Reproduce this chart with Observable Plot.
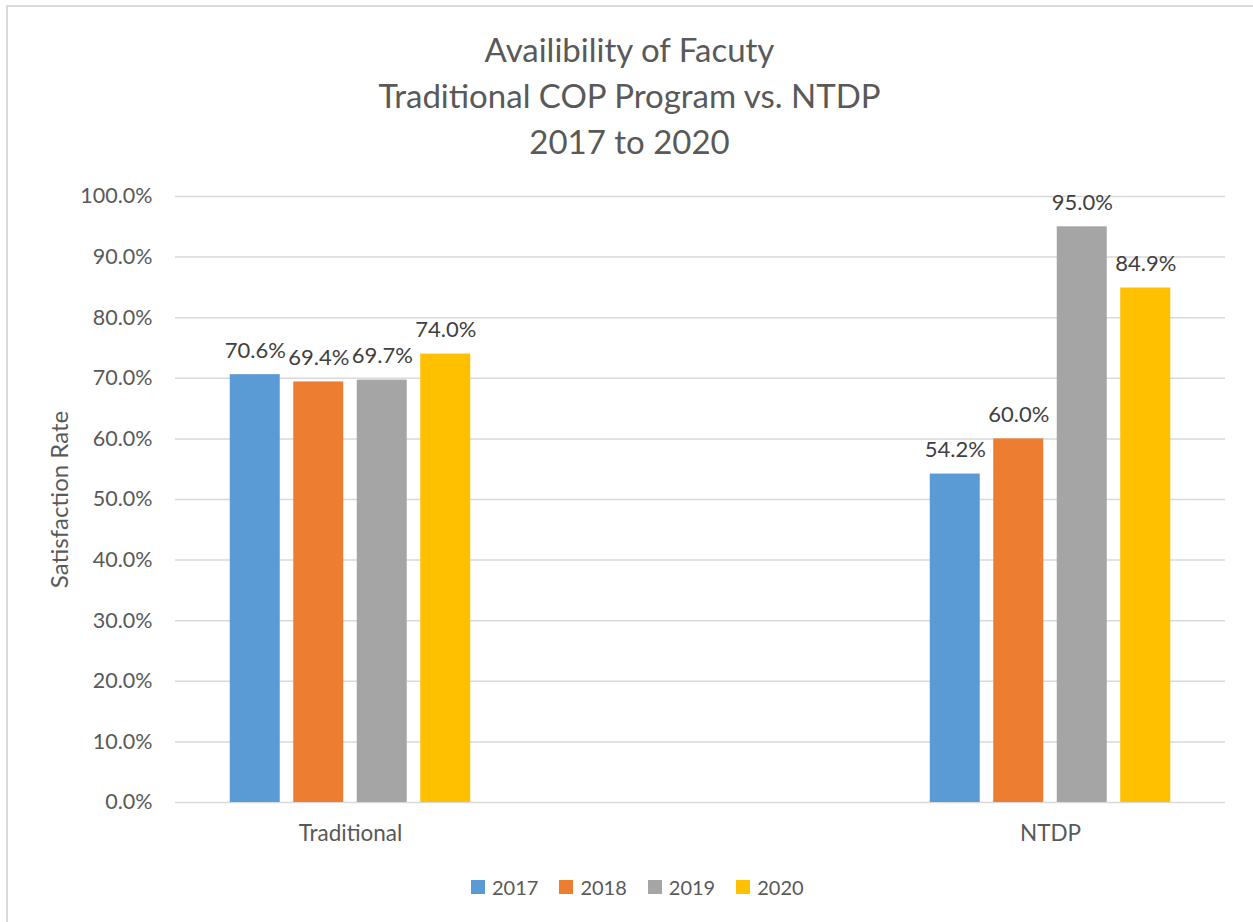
<!DOCTYPE html>
<html>
<head>
<meta charset="utf-8">
<script src="https://cdn.jsdelivr.net/npm/d3@7"></script>
<script src="https://cdn.jsdelivr.net/npm/@observablehq/plot@0.6"></script>
<style>
  html, body { margin: 0; padding: 0; background: #ffffff; overflow: hidden; }
  #wrap { position: relative; width: 1253px; height: 922px; font-family: Lato, "Open Sans", sans-serif; }
  #frameBorder { position: absolute; left: 6px; top: 5px; width: 1300px; height: 1000px;
    border-left: 2px solid #d9d9d9; border-top: 2px solid #d9d9d9; }
  #chart { position: absolute; left: 0; top: 0; }
  #title { position: absolute; left: 3px; top: 26px; width: 1253px; text-align: center;
    font-size: 33px; line-height: 46px; color: #595959; }
  #legend { position: absolute; left: 471px; top: 875px; display: flex; align-items: center;
    font-size: 20px; color: #595959; }
  .item { display: flex; align-items: center; margin-right: 21px; }
  .sw { width: 14px; height: 14px; margin-right: 7px; }
</style>
</head>
<body>
<div id="wrap">
  <div id="frameBorder"></div>
  <div id="chart"></div>
  <div id="title"></div>
  <div id="legend"></div>
</div>
<script>
// ---- data ----
const titleLines = ["Availibility of Facuty", "Traditional COP Program vs. NTDP", "2017 to 2020"];
const categories = ["Traditional", "NTDP"];
const years = ["2017", "2018", "2019", "2020"];
const values2017 = [0.706, 0.542];
const values2018 = [0.694, 0.600];
const values2019 = [0.697, 0.950];
const values2020 = [0.740, 0.849];
const colors = ["#5b9bd5", "#ed7d31", "#a5a5a5", "#ffc000"];
const yTicks = [0, 0.1, 0.2, 0.3, 0.4, 0.5, 0.6, 0.7, 0.8, 0.9, 1.0];
const yLabel = "Satisfaction Rate";

const seriesValues = [values2017, values2018, values2019, values2020];
const rows = [];
years.forEach((yr, i) => categories.forEach((c, j) => rows.push({category: c, year: yr, value: seriesValues[i][j]})));

const fmt = d3.format(".1%");
const step = 63.5;
const barMarks = [];
const labelMarks = [];
years.forEach((yr, i) => {
  const sub = rows.filter(r => r.year === yr);
  const off = (i - 1.5) * step;
  barMarks.push(Plot.barY(sub, {x: "category", y: "value", fill: colors[i], insetLeft: 325, insetRight: 325, dx: off}));
  labelMarks.push(Plot.text(sub, {x: "category", y: "value", text: d => fmt(d.value), dx: off, dy: -17,
    lineAnchor: "bottom", fontSize: 22, fill: "#404040"}));
});

const plot = Plot.plot({
  width: 1253,
  height: 922,
  marginLeft: 175,
  marginRight: 28,
  marginTop: 196,
  marginBottom: 120,
  style: {background: "transparent", fontFamily: "Lato, 'Open Sans', sans-serif", color: "#595959", overflow: "visible"},
  x: {domain: categories, range: [0, 1400], padding: 0},
  y: {domain: [0, 1]},
  marks: [
    Plot.gridY(yTicks, {stroke: "#d9d9d9", strokeOpacity: 1, strokeWidth: 1.5}),
    Plot.axisY(yTicks, {tickFormat: fmt, tickSize: 0, tickPadding: 23, fontSize: 21.5, label: null, fill: "#595959"}),
    Plot.axisX({tickSize: 0, tickPadding: 23, fontSize: 22.5, label: null, fill: "#595959"}),
    ...barMarks,
    ...labelMarks,
    Plot.text([yLabel], {frameAnchor: "left", textAnchor: "middle", lineAnchor: "middle", rotate: -90, dx: -115, fontSize: 24, fill: "#595959"})
  ]
});
document.getElementById("chart").appendChild(plot);

document.getElementById("title").innerHTML = titleLines.map(t => `<div>${t}</div>`).join("");

const legend = document.getElementById("legend");
years.forEach((yr, i) => {
  const item = document.createElement("div");
  item.className = "item";
  item.innerHTML = `<div class="sw" style="background:${colors[i]}"></div><span>${yr}</span>`;
  legend.appendChild(item);
});
</script>
</body>
</html>
